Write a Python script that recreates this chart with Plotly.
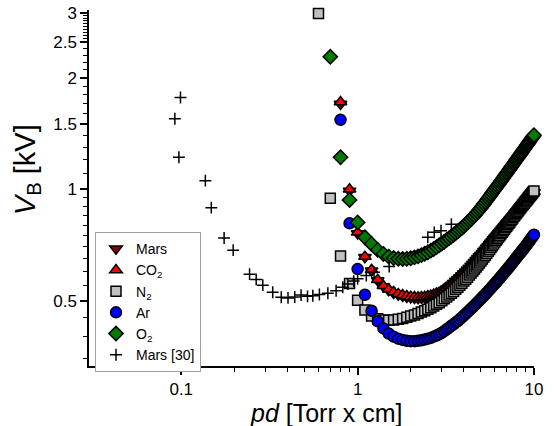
import plotly.graph_objects as go

# ---------------- data ----------------
# pd grid (Torr x cm), 0.1 steps
PD_N2 = [round(0.1 * i, 1) for i in range(6, 101)]
PD_O2 = [round(0.1 * i, 1) for i in range(7, 101)]
PD_CO2 = [round(0.1 * i, 1) for i in range(8, 101)]
PD_MARS = PD_CO2
PD_AR = PD_CO2

V_O2 = [2.28, 1.22, 0.936,
        0.814, 0.742, 0.712, 0.686, 0.669, 0.658, 0.652, 0.649, 0.648, 0.649,
        0.651, 0.655, 0.659, 0.664, 0.670, 0.676, 0.683, 0.690, 0.698, 0.706,
        0.714, 0.722, 0.730, 0.738, 0.746, 0.754, 0.762, 0.770, 0.778, 0.786,
        0.795, 0.804, 0.813, 0.822, 0.831, 0.841, 0.850, 0.860, 0.870, 0.880,
        0.890, 0.901, 0.912, 0.923, 0.934, 0.945, 0.956, 0.967, 0.978, 0.989,
        1.000, 1.010, 1.021, 1.031, 1.042, 1.052, 1.063, 1.073, 1.084, 1.094,
        1.105, 1.115, 1.125, 1.136, 1.146, 1.156, 1.166, 1.176, 1.187, 1.197,
        1.207, 1.217, 1.227, 1.236, 1.246, 1.256, 1.266, 1.276, 1.285, 1.295,
        1.305, 1.315, 1.324, 1.334, 1.343, 1.353, 1.362, 1.372, 1.381, 1.391,
        1.400]

V_N2 = [2.98, 0.946, 0.660, 0.557,
        0.502, 0.472, 0.455, 0.447, 0.444, 0.443, 0.444, 0.446, 0.448, 0.451,
        0.455, 0.458, 0.462, 0.466, 0.470, 0.474, 0.479, 0.484, 0.489, 0.494,
        0.500, 0.506, 0.512, 0.518, 0.524, 0.530, 0.537, 0.544, 0.551, 0.558,
        0.565, 0.572, 0.579, 0.587, 0.594, 0.602, 0.609, 0.617, 0.625, 0.632,
        0.640, 0.648, 0.656, 0.664, 0.672, 0.680, 0.688, 0.696, 0.704, 0.712,
        0.720, 0.728, 0.735, 0.743, 0.750, 0.758, 0.765, 0.773, 0.780, 0.788,
        0.795, 0.802, 0.809, 0.816, 0.823, 0.830, 0.838, 0.845, 0.852, 0.859,
        0.866, 0.873, 0.879, 0.886, 0.892, 0.898, 0.905, 0.911, 0.917, 0.924,
        0.930, 0.936, 0.942, 0.948, 0.954, 0.960, 0.966, 0.972, 0.978, 0.984,
        0.990]

V_CO2 = [1.72, 1.00,
         0.765, 0.658, 0.606, 0.570, 0.549, 0.537, 0.528, 0.522, 0.518, 0.515,
         0.513, 0.512, 0.511, 0.512, 0.513, 0.515, 0.517, 0.520, 0.523, 0.526,
         0.530, 0.536, 0.542, 0.548, 0.554, 0.561, 0.568, 0.575, 0.581, 0.588,
         0.595, 0.602, 0.609, 0.616, 0.624, 0.631, 0.638, 0.646, 0.653, 0.661,
         0.668, 0.675, 0.683, 0.690, 0.698, 0.705, 0.712, 0.720, 0.727, 0.735,
         0.742, 0.749, 0.756, 0.763, 0.769, 0.776, 0.783, 0.790, 0.796, 0.803,
         0.810, 0.816, 0.822, 0.829, 0.835, 0.841, 0.847, 0.853, 0.860, 0.866,
         0.872, 0.878, 0.884, 0.890, 0.895, 0.901, 0.907, 0.913, 0.918, 0.924,
         0.930, 0.936, 0.941, 0.947, 0.952, 0.958, 0.963, 0.969, 0.974, 0.980,
         0.985]

V_MARS = [1.70, 0.99,
          0.760, 0.655, 0.603, 0.567, 0.546, 0.534, 0.525, 0.519, 0.515, 0.512,
          0.510, 0.509, 0.508, 0.509, 0.510, 0.512, 0.514, 0.517, 0.520, 0.523,
          0.527, 0.533, 0.539, 0.545, 0.551, 0.558, 0.565, 0.572, 0.578, 0.585,
          0.592, 0.599, 0.606, 0.613, 0.621, 0.628, 0.635, 0.643, 0.650, 0.658,
          0.665, 0.672, 0.680, 0.687, 0.695, 0.702, 0.709, 0.717, 0.724, 0.732,
          0.739, 0.746, 0.753, 0.760, 0.766, 0.773, 0.780, 0.787, 0.793, 0.800,
          0.807, 0.813, 0.819, 0.826, 0.832, 0.838, 0.844, 0.850, 0.857, 0.863,
          0.869, 0.875, 0.881, 0.887, 0.892, 0.898, 0.904, 0.910, 0.915, 0.921,
          0.927, 0.933, 0.938, 0.944, 0.949, 0.955, 0.960, 0.966, 0.971, 0.977,
          0.982]

V_AR = [1.54, 0.809,
        0.609, 0.519, 0.470, 0.440, 0.421, 0.408, 0.400, 0.395, 0.392, 0.390,
        0.389, 0.389, 0.390, 0.391, 0.393, 0.395, 0.397, 0.400, 0.403, 0.406,
        0.410, 0.414, 0.419, 0.423, 0.428, 0.432, 0.437, 0.441, 0.446, 0.451,
        0.456, 0.461, 0.466, 0.471, 0.476, 0.481, 0.486, 0.491, 0.496, 0.501,
        0.506, 0.511, 0.516, 0.521, 0.526, 0.531, 0.536, 0.541, 0.546, 0.551,
        0.556, 0.561, 0.566, 0.571, 0.576, 0.581, 0.586, 0.591, 0.596, 0.601,
        0.606, 0.611, 0.616, 0.621, 0.626, 0.631, 0.636, 0.641, 0.646, 0.651,
        0.656, 0.661, 0.666, 0.670, 0.675, 0.680, 0.685, 0.690, 0.694, 0.699,
        0.704, 0.709, 0.714, 0.719, 0.724, 0.729, 0.734, 0.739, 0.744, 0.749,
        0.754]

# Mars [30] reference measurements
PD_REF = [0.092, 0.097, 0.099, 0.137, 0.148, 0.175, 0.197, 0.244, 0.266, 0.29,
          0.33, 0.369, 0.403, 0.44, 0.478, 0.52, 0.557, 0.607, 0.678, 0.755,
          0.824, 0.88, 0.95, 1.0, 1.12, 1.24, 1.51, 2.5, 2.72, 2.97, 3.4]
V_REF = [1.55, 1.22, 1.77, 1.055, 0.892, 0.739, 0.685, 0.59, 0.571, 0.551,
         0.527, 0.511, 0.509, 0.512, 0.518, 0.514, 0.516, 0.52, 0.524, 0.532,
         0.544, 0.555, 0.565, 0.573, 0.585, 0.597, 0.619, 0.742, 0.765, 0.773, 0.805]

X_TICKS = [0.1, 1, 10]
X_TICKTEXT = ["0.1", "1", "10"]
Y_TICKS = [0.5, 1, 1.5, 2, 2.5, 3]
Y_TICKTEXT = ["0.5", "1", "1.5", "2", "2.5", "3"]
X_MINOR = [0.04, 0.05, 0.06, 0.07, 0.08, 0.09,
           0.2, 0.3, 0.4, 0.5, 0.6, 0.7, 0.8, 0.9,
           2, 3, 4, 5, 6, 7, 8, 9]
Y_MINOR = [0.35, 0.40, 0.45, 0.55, 0.60, 0.65, 0.70, 0.75, 0.80, 0.85, 0.90, 0.95,
           1.1, 1.2, 1.3, 1.4, 1.6, 1.7, 1.8, 1.9, 2.1, 2.2, 2.3, 2.4,
           2.55, 2.6, 2.65, 2.7, 2.75, 2.8, 2.85, 2.9, 2.95]

FONT = "Liberation Sans, Arial, sans-serif"

fig = go.Figure()

def add(name, x, y, symbol, color, size):
    fig.add_trace(go.Scatter(
        x=x, y=y, mode="markers", name=name, cliponaxis=False,
        marker=dict(symbol=symbol, color=color, size=size,
                    line=dict(color="black", width=1.5))))

add("Mars", PD_MARS, V_MARS, "triangle-down", "#8b0000", 11)
add("CO<sub>2</sub>", PD_CO2, V_CO2, "triangle-up", "#ff0000", 11)
add("N<sub>2</sub>", PD_N2, V_N2, "square", "#c0c0c0", 10)
add("Ar", PD_AR, V_AR, "circle", "#0000ff", 11)
add("O<sub>2</sub>", PD_O2, V_O2, "diamond", "#007a00", 11)
fig.add_trace(go.Scatter(
    x=PD_REF, y=V_REF, mode="markers", name="Mars [30]", cliponaxis=False,
    marker=dict(symbol="cross-thin", size=8.5, color="black",
                line=dict(color="black", width=1.5))))

axis_common = dict(
    showline=True, linecolor="black", linewidth=1.5, mirror=False,
    showgrid=False, zeroline=False, ticks="outside", ticklen=7, tickwidth=1.5,
    tickcolor="black", tickfont=dict(family=FONT, size=17, color="black"),
    automargin=False,
)

fig.update_layout(
    width=555, height=426,
    margin=dict(l=89, r=21, t=10, b=60),
    paper_bgcolor="white", plot_bgcolor="white",
    font=dict(family=FONT, color="black"),
    showlegend=True,
    legend=dict(x=0.0135, y=0.376, xanchor="left", yanchor="top",
                bordercolor="#a0a0a0", borderwidth=1, bgcolor="white",
                font=dict(family=FONT, size=14, color="black"),
                tracegroupgap=0),
    xaxis=dict(type="log", range=[-1.523, 1.0], tickmode="array",
               tickvals=X_TICKS, ticktext=X_TICKTEXT,
               minor=dict(tickmode="array", tickvals=X_MINOR, ticks="outside",
                          ticklen=4, tickwidth=1.2, tickcolor="black", showgrid=False),
               **axis_common),
    yaxis=dict(type="log", range=[-0.4771, 0.484], tickmode="array",
               tickvals=Y_TICKS, ticktext=Y_TICKTEXT,
               minor=dict(tickmode="array", tickvals=Y_MINOR, ticks="outside",
                          ticklen=4, tickwidth=1.2, tickcolor="black", showgrid=False),
               **axis_common),
    annotations=[
        dict(text="<i>pd</i> [Torr x cm]", xref="paper", yref="paper",
             x=0.533, y=-0.132, xanchor="center", yanchor="middle",
             showarrow=False, font=dict(family=FONT, size=25, color="black")),
        dict(text="<i>V</i><sub>B</sub> [kV]", xref="paper", yref="paper",
             x=-0.139, y=0.5506, xanchor="center", yanchor="middle",
             textangle=-90, showarrow=False,
             font=dict(family=FONT, size=29, color="black")),
    ],
)

fig.write_html("out.html")
